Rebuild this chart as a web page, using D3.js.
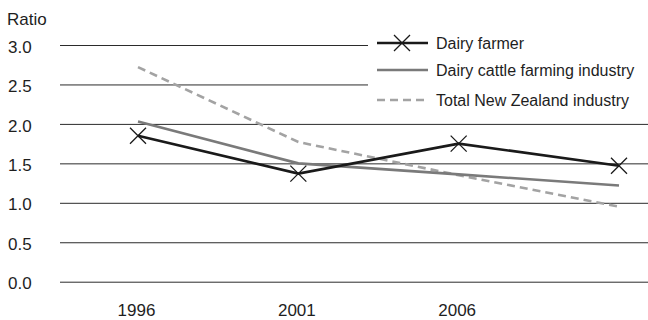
<!DOCTYPE html>
<html>
<head>
<meta charset="utf-8">
<script src="https://cdn.jsdelivr.net/npm/d3@7"></script>
<style>
  html, body { margin: 0; padding: 0; background: #fff; }
  svg { display: block; font-family: "Liberation Sans", Arial, Helvetica, sans-serif; }
</style>
</head>
<body>
<svg id="chart" width="648" height="320"></svg>
<script>
// Census years along the x axis (the last point carries no label)
const years = ["1996", "2001", "2006", "2013"];
const yearLabels = ["1996", "2001", "2006", ""];
const yTicks = [0, 0.5, 1.0, 1.5, 2.0, 2.5, 3.0];

// Ratio series
const dairyFarmer = [1.85, 1.37, 1.75, 1.47];
const dairyCattleIndustry = [2.03, 1.50, 1.36, 1.22];
const totalNZIndustry = [2.72, 1.77, 1.35, 0.95];

const seriesNames = ["Dairy farmer", "Dairy cattle farming industry", "Total New Zealand industry"];

const W = 648, H = 320;
const svg = d3.select("#chart");

const x = d3.scalePoint().domain(years).range([138, 619]);
const y = d3.scaleLinear().domain([0, 3]).range([281.7, 45]);

// Horizontal gridlines with tick labels
const yAxis = d3.axisLeft(y)
  .tickValues(yTicks)
  .tickFormat(d3.format(".1f"))
  .tickSize(-(W - 60))
  .tickPadding(26);
const gy = svg.append("g").attr("transform", "translate(60,0)").call(yAxis);
gy.select(".domain").remove();
gy.selectAll(".tick line").attr("stroke", "#2b2b2b").attr("stroke-width", 1);
gy.selectAll(".tick text")
  .attr("fill", "#1e1e1e").attr("font-size", 17)
  .attr("text-anchor", "start").attr("x", -52).attr("dy", "0.42em");

svg.append("text").attr("x", 7).attr("y", 25)
  .attr("font-size", 17).attr("fill", "#1e1e1e").text("Ratio");

// X labels
const xAxis = d3.axisBottom(x).tickSize(0).tickPadding(0)
  .tickFormat((d, i) => yearLabels[i]);
const gx = svg.append("g").attr("transform", "translate(-2,304)").call(xAxis);
gx.select(".domain").remove();
gx.selectAll(".tick text").attr("fill", "#1e1e1e").attr("font-size", 17);

// Legend background masks gridlines behind it
svg.append("rect").attr("x", 368).attr("y", 30).attr("width", W - 368).attr("height", 78).attr("fill", "#fff");

const line = d3.line().x((d, i) => x(years[i])).y(d => y(d));

const styles = [
  { data: dairyFarmer, stroke: "#1a1a1a", width: 2.6, dash: null, marker: true },
  { data: dairyCattleIndustry, stroke: "#7a7a7a", width: 2.6, dash: null, marker: false },
  { data: totalNZIndustry, stroke: "#a3a3a3", width: 2.6, dash: "8,5", marker: false }
];

// Draw back-to-front: dashed, grey, black
[2, 1, 0].forEach(k => {
  const s = styles[k];
  svg.append("path").datum(s.data)
    .attr("d", line)
    .attr("fill", "none")
    .attr("stroke", s.stroke)
    .attr("stroke-width", s.width)
    .attr("stroke-dasharray", s.dash)
    .attr("stroke-linejoin", "miter");
});

function cross(g, cx, cy, r) {
  g.append("path")
    .attr("d", `M${cx - r},${cy - r}L${cx + r},${cy + r}M${cx - r},${cy + r}L${cx + r},${cy - r}`)
    .attr("stroke", "#1a1a1a").attr("stroke-width", 1.3).attr("fill", "none");
}

const markers = svg.append("g");
dairyFarmer.forEach((v, i) => cross(markers, x(years[i]), y(v), 8));

// Legend
const legendY = [43, 70, 100];
seriesNames.forEach((name, k) => {
  const s = styles[k];
  const ly = legendY[k];
  svg.append("line").attr("x1", 377).attr("x2", 428).attr("y1", ly).attr("y2", ly)
    .attr("stroke", s.stroke).attr("stroke-width", s.width).attr("stroke-dasharray", s.dash);
  if (s.marker) cross(svg, 402, ly, 8);
  svg.append("text").attr("x", 436).attr("y", ly + 5.5)
    .attr("font-size", 16).attr("fill", "#1e1e1e").text(name);
});
</script>
</body>
</html>
